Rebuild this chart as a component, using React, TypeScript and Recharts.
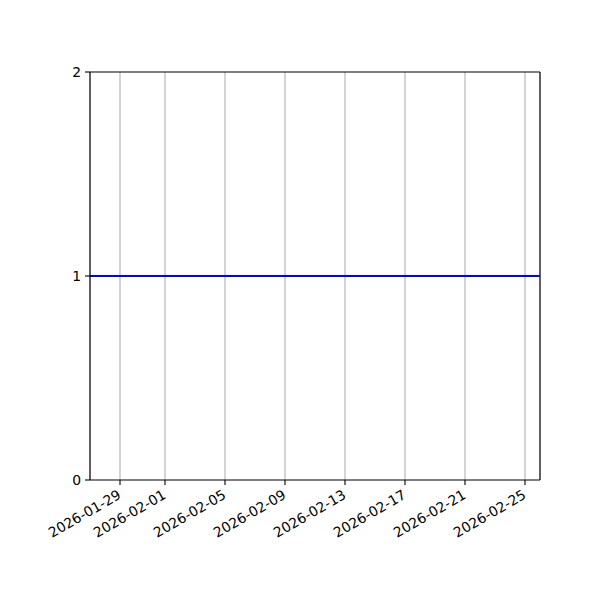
import { LineChart, Line, XAxis, YAxis, CartesianGrid, ReferenceLine } from 'recharts';

const dates = [
  '2026-01-27', '2026-01-28', '2026-01-29', '2026-01-30', '2026-01-31',
  '2026-02-01', '2026-02-02', '2026-02-03', '2026-02-04', '2026-02-05',
  '2026-02-06', '2026-02-07', '2026-02-08', '2026-02-09', '2026-02-10',
  '2026-02-11', '2026-02-12', '2026-02-13', '2026-02-14', '2026-02-15',
  '2026-02-16', '2026-02-17', '2026-02-18', '2026-02-19', '2026-02-20',
  '2026-02-21', '2026-02-22', '2026-02-23', '2026-02-24', '2026-02-25',
  '2026-02-26',
];
const values = [
  1, 1, 1, 1, 1, 1, 1, 1, 1, 1,
  1, 1, 1, 1, 1, 1, 1, 1, 1, 1,
  1, 1, 1, 1, 1, 1, 1, 1, 1, 1,
  1,
];
const xTickLabels = [
  '2026-01-29', '2026-02-01', '2026-02-05', '2026-02-09',
  '2026-02-13', '2026-02-17', '2026-02-21', '2026-02-25',
];
const yTicks = [0, 1, 2];

const toTime = (d: string) => new Date(d).getTime();
const data = dates.map((d, i) => ({ t: toTime(d), v: values[i] }));
const xStart = toTime(dates[0]);
const xEnd = toTime(dates[dates.length - 1]);

const fmt = (t: number) => new Date(t).toISOString().slice(0, 10);

const font = 'DejaVu Sans, sans-serif';

function DateTick(props: any) {
  const { x, y, payload } = props;
  return (
    <g transform={`translate(${x - 3},${y - 1})`}>
      <text
        textAnchor="end"
        dy="0.72em"
        transform="rotate(-30)"
        fontSize={13.9}
        fontFamily={font}
        fill="#000"
      >
        {fmt(payload.value)}
      </text>
    </g>
  );
}

export default function App() {
  return (
    <div style={{ width: 600, height: 600 }}>
      <style>{'body{margin:0}'}</style>
      <LineChart
        width={600}
        height={600}
        data={data}
        margin={{ top: 72, right: 60, bottom: 69, left: 50 }}
      >
        <CartesianGrid horizontal={false} stroke="#b0b0b0" strokeWidth={1.1} />
        <XAxis
          dataKey="t"
          type="number"
          scale="time"
          domain={[xStart, xEnd]}
          ticks={xTickLabels.map(toTime)}
          tick={<DateTick />}
          tickSize={5}
          tickMargin={5}
          height={51}
          stroke="#000"
          strokeWidth={1.1}
          interval={0}
          allowDataOverflow
        />
        <YAxis
          domain={[0, 2]}
          ticks={yTicks}
          width={40}
          tickSize={5}
          tickMargin={4}
          stroke="#000"
          strokeWidth={1.1}
          tick={{ fill: '#000', fontSize: 13.9, fontFamily: font }}
        />
        <ReferenceLine y={2} stroke="#000" strokeWidth={1.1} />
        <ReferenceLine x={xEnd} stroke="#000" strokeWidth={1.1} />
        <Line
          dataKey="v"
          stroke="#0000ff"
          strokeWidth={2}
          dot={false}
          isAnimationActive={false}
        />
      </LineChart>
    </div>
  );
}
